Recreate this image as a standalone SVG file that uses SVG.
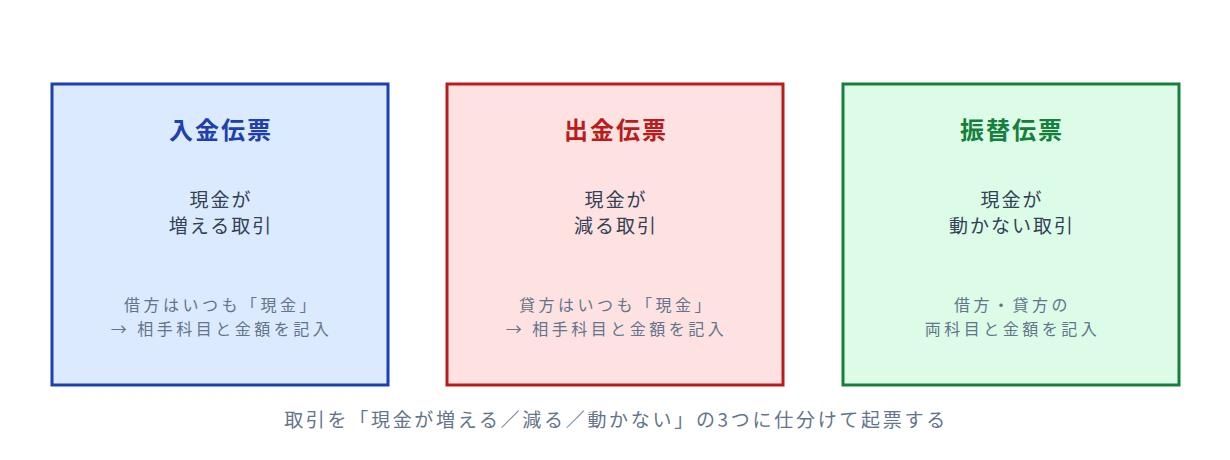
<svg xmlns="http://www.w3.org/2000/svg" width="1230" height="460" viewBox="0 0 1230 460">
<style>
text{font-family:"Noto Sans CJK JP","Noto Sans",sans-serif;text-anchor:middle}
.box{stroke-width:3}
.t{font-size:24px;font-weight:bold;letter-spacing:2px}
.m{font-size:19px;fill:#334155;letter-spacing:2px}
.s{font-size:16px;fill:#64748b;letter-spacing:3.5px}
.c{font-size:19px;fill:#64748b;letter-spacing:2.7px}
</style>
<rect width="1230" height="460" fill="#ffffff"/>
<g id="n1">
<rect class="box" x="52" y="84" width="336" height="301" fill="#dbeafe" stroke="#1e40af"/>
<text class="t" x="221" y="139" fill="#1e40af">入金伝票</text>
<text class="m" x="221" y="207">現金が</text>
<text class="m" x="221" y="233">増える取引</text>
<text class="s" x="221.5" y="311">借方はいつも「現金」</text>
<text class="s" x="221.5" y="335">→ 相手科目と金額を記入</text>
</g>
<g id="n2">
<rect class="box" x="447" y="84" width="336" height="301" fill="#fee2e2" stroke="#b91c1c"/>
<text class="t" x="616" y="139" fill="#b91c1c">出金伝票</text>
<text class="m" x="616" y="207">現金が</text>
<text class="m" x="616" y="233">減る取引</text>
<text class="s" x="616.5" y="311">貸方はいつも「現金」</text>
<text class="s" x="616.5" y="335">→ 相手科目と金額を記入</text>
</g>
<g id="n3">
<rect class="box" x="843" y="84" width="336" height="301" fill="#dcfce7" stroke="#15803d"/>
<text class="t" x="1012" y="139" fill="#15803d">振替伝票</text>
<text class="m" x="1012" y="207">現金が</text>
<text class="m" x="1012" y="233">動かない取引</text>
<text class="s" x="1012.5" y="311">借方・貸方の</text>
<text class="s" x="1012.5" y="335">両科目と金額を記入</text>
</g>
<g id="connectors"></g>
<text class="c" x="616" y="427">取引を「現金が増える／減る／動かない」の3つに仕分けて起票する</text>
</svg>
